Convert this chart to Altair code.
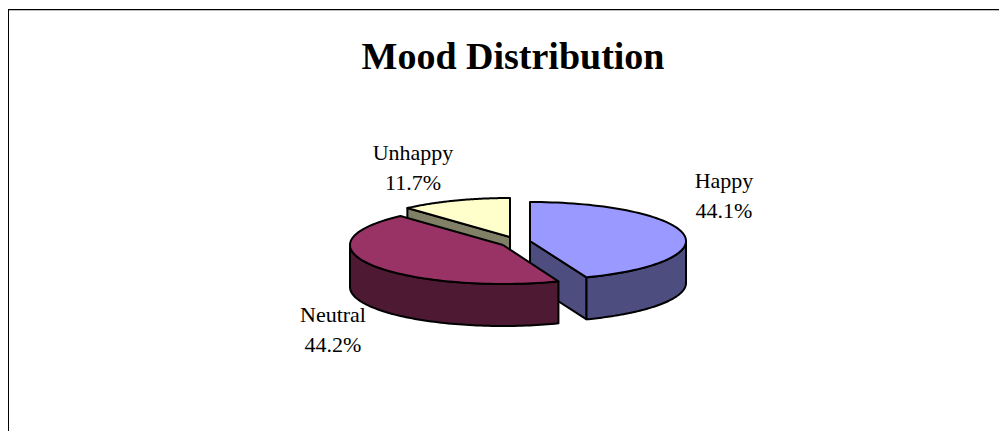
import altair as alt
import numpy as np
import pandas as pd

# Chart data
categories = ["Happy", "Neutral", "Unhappy"]
shares = [44.1, 44.2, 11.7]
title_text = "Mood Distribution"

# Colours and layout of the exploded 3-D pie
top_colors = {"Happy": "#9999FF", "Neutral": "#993366", "Unhappy": "#FFFFCC"}
side_colors = {"Happy": "#4D4D80", "Neutral": "#4D1933", "Unhappy": "#808066"}
centers = {"Happy": (530, 241), "Neutral": (503, 245), "Unhappy": (510, 237)}
radius_x = {"Happy": 156, "Neutral": 153, "Unhappy": 153}
radius_y = 39
depth = 42
label_pos = {"Happy": (724, 188), "Neutral": (333, 322), "Unhappy": (413, 160)}
W, H = 991, 423

# Slice angles, clockwise from 12 o'clock, derived from the shares
ends = np.cumsum(shares) / sum(shares) * 360
starts = np.concatenate([[0], ends[:-1]])
angles = {c: (s, e) for c, s, e in zip(categories, starts, ends)}


def rim(cat, a0, a1, dy=0):
    cx, cy = centers[cat]
    t = np.radians(np.linspace(a0, a1, 80))
    return list(zip(cx + radius_x[cat] * np.sin(t), cy - radius_y * np.cos(t) + dy))


def top_face(cat):
    a0, a1 = angles[cat]
    return [centers[cat]] + rim(cat, a0, a1)


def outer_side(cat, a0, a1):
    return rim(cat, a0, a1) + rim(cat, a1, a0, depth)


def radial_side(cat, a):
    cx, cy = centers[cat]
    p = rim(cat, a, a)[0]
    return [(cx, cy), p, (p[0], p[1] + depth), (cx, cy + depth)]


x_scale = alt.Scale(domain=[8, 8 + W], range=[0, W])
y_scale = alt.Scale(domain=[8, 8 + H], range=[0, H])


def face(points, color):
    pts = list(points) + [points[0]]
    df = pd.DataFrame(pts, columns=["px", "py"]).assign(i=range(len(pts)))
    return alt.Chart(df).mark_line(
        fill=color, stroke="black", strokeWidth=2, strokeJoin="round", clip=False
    ).encode(
        x=alt.X("px:Q", scale=x_scale, axis=None),
        y=alt.Y("py:Q", scale=y_scale, axis=None),
        order="i:Q",
    )


a = angles
layers = [
    face(radial_side("Unhappy", a["Unhappy"][0]), side_colors["Unhappy"]),
    face(top_face("Unhappy"), top_colors["Unhappy"]),
    face(radial_side("Happy", a["Happy"][1]), side_colors["Happy"]),
    face(outer_side("Happy", 90, a["Happy"][1]), side_colors["Happy"]),
    face(top_face("Happy"), top_colors["Happy"]),
    face(outer_side("Neutral", a["Neutral"][0], 270), side_colors["Neutral"]),
    face(top_face("Neutral"), top_colors["Neutral"]),
]

rows = []
for c, v in zip(categories, shares):
    lx, ly = label_pos[c]
    rows.append({"px": lx, "py": ly, "t": c})
    rows.append({"px": lx, "py": ly + 30, "t": f"{v}%"})
labels = alt.Chart(pd.DataFrame(rows)).mark_text(
    font="Liberation Serif", fontSize=22, color="black", baseline="alphabetic", align="center"
).encode(
    x=alt.X("px:Q", scale=x_scale, axis=None),
    y=alt.Y("py:Q", scale=y_scale, axis=None),
    text="t:N",
)
title_mark = alt.Chart(pd.DataFrame({"px": [513], "py": [69], "t": [title_text]})).mark_text(
    font="Liberation Serif", fontSize=38, fontWeight="bold", color="black",
    baseline="alphabetic", align="center",
).encode(
    x=alt.X("px:Q", scale=x_scale, axis=None),
    y=alt.Y("py:Q", scale=y_scale, axis=None),
    text="t:N",
)

border_top = alt.Chart(pd.DataFrame({"a": [0]})).mark_rule(color="black", strokeWidth=1).encode(
    x=alt.value(0), x2=alt.value(W), y=alt.value(1.5)
)
border_shadow = alt.Chart(pd.DataFrame({"a": [0]})).mark_rule(color="#BBBBBB", strokeWidth=1).encode(
    x=alt.value(0), x2=alt.value(W), y=alt.value(2.5)
)
border_left = alt.Chart(pd.DataFrame({"a": [0]})).mark_rule(color="black", strokeWidth=1).encode(
    x=alt.value(0.5), y=alt.value(1), y2=alt.value(H)
)

chart = alt.layer(border_shadow, border_top, border_left, *layers, labels, title_mark).properties(
    width=W,
    height=H,
    padding=0,
    autosize=alt.AutoSizeParams(type="none"),
).configure_view(stroke=None)

chart.save("out.html", embed_options={"renderer": "svg", "actions": False})
